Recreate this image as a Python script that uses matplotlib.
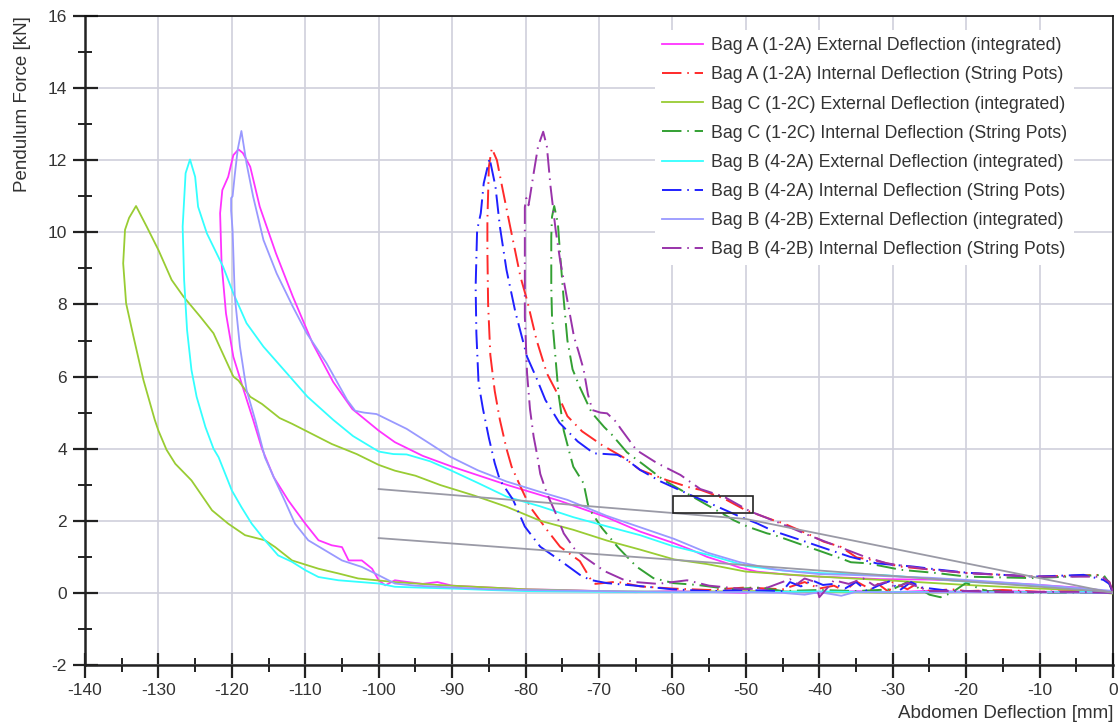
import matplotlib
matplotlib.use("Agg")
import matplotlib.pyplot as plt
from matplotlib.patches import Rectangle
from matplotlib.ticker import MultipleLocator

plt.rcParams['font.family'] = ['Liberation Sans', 'DejaVu Sans']
plt.rcParams['axes.unicode_minus'] = False

# Bag A (1-2A) external deflection (integrated)
bagA_ext_x = [0, -2, -5, -10, -15, -20, -25, -31.7, -36, -40, -44, -48.5, -50.8, -53, -55.3, -57.5,
              -59.8, -64.4, -69, -75.3, -82.6, -90, -94, -97.8, -100, -103.6, -106.2, -109, -111.7,
              -114, -116.2, -117.5, -118.5, -119.1,
              -119.8, -120.5, -121.3, -121.6, -121.4, -120.8, -119.8, -118.4, -117.1, -115.9, -114.3,
              -112.3, -110, -108.2, -106.4, -105, -104.1, -102.3, -100.9, -100, -99.1, -97.8, -96,
              -94, -92, -90, -85, -80, -75, -70, -65, -60, -50, -47, -45, -40, -35, -30, -25, -20,
              -15, -10, -5, 0]
bagA_ext_y = [0, 0.08, 0.15, 0.22, 0.28, 0.33, 0.37, 0.38, 0.42, 0.45, 0.5, 0.59, 0.7, 0.85, 1.0, 1.2,
              1.38, 1.7, 2.1, 2.55, 3.0, 3.5, 3.8, 4.18, 4.5, 5.1, 5.85, 6.92, 8.22,
              9.42, 10.71, 11.82, 12.2, 12.3,
              12.14, 11.54, 11.17, 10.53, 9.14, 7.75, 6.55, 5.63, 4.8, 4.0, 3.21,
              2.56, 1.92, 1.46, 1.32, 1.27, 0.9, 0.9, 0.67, 0.35, 0.21, 0.35, 0.3,
              0.25, 0.3, 0.2, 0.15, 0.1, 0.08, 0.05, 0.02, 0.05, 0.0, 0.1, 0.04, 0.0, 0.05, 0.02, 0.06,
              0.03, 0.05, 0.03, 0.04, 0.02]

# Bag A (1-2A) internal deflection (string pots)
bagA_int_x = [0, -0.5, -1.7, -5, -10.8, -15, -19.9, -25, -29, -32.6, -34.9, -37.1, -39.4, -41.7, -44.9,
              -46.3, -50.1, -53, -56.2, -57.6, -60.8, -64.4, -66.6, -69.6, -72.3, -74.3, -75.7, -77.1,
              -78.5, -79.8, -80.7, -82.1, -83.2, -83.9, -84.6,
              -85, -85.2, -85.2, -85.1, -84.8, -84.2, -83.5, -82.6, -81.9, -80.7, -79.4, -77.1, -75.3,
              -72.6, -71.2, -70.5, -67.6, -64.4, -60, -55, -50, -45, -42, -40, -38, -36.5, -35, -33,
              -32, -30.5, -30, -28, -27, -25, -22, -20, -15, -10, -5, 0]
bagA_int_y = [0, 0.3, 0.5, 0.48, 0.45, 0.5, 0.55, 0.65, 0.73, 0.91, 0.98, 1.28, 1.42, 1.65, 1.93,
              2.02, 2.3, 2.62, 2.86, 2.92, 3.13, 3.41, 3.75, 4.1, 4.48, 4.9, 5.54, 6.09,
              7.01, 8.12, 8.77, 10.16, 11.27, 12.0, 12.33,
              11.82, 10.34, 9.5, 8.0, 6.6, 5.6, 4.8, 4.0, 3.5, 2.95, 2.39, 1.75, 1.28,
              0.88, 0.4, 0.25, 0.31, 0.18, 0.12, 0.08, 0.15, 0.1, 0.3, 0.12, 0.2, 0.05, 0.32, 0.1,
              0.25, 0.02, 0.3, 0.1, 0.22, 0.05, 0.1, 0.05, 0.08, 0.03, 0.05, 0.02]

# Bag C (1-2C) external deflection (integrated)
bagC_ext_x = [0, -5, -10, -15, -20, -25, -31.7, -39.9, -45, -50, -55.3, -59.8, -64.4, -68.9, -73.5,
              -78, -82.6, -87, -91.6, -95, -97.8, -100, -103, -106.4, -109, -111.8, -113.5, -115.9,
              -117.5, -119.1, -119.8, -122.5, -124.3, -126.6, -128.2, -130, -131.6, -133.05,
              -134, -134.55, -134.8, -134.4, -133.4, -132.05, -130.5, -130, -128.9, -127.7, -125.5,
              -122.7, -120.5, -118.2, -115.5, -114.1, -111.8, -108.2, -105.5, -102.8, -97.8, -92,
              -85, -80, -70, -60, -50, -40, -30, -20, -10, 0]
bagC_ext_y = [-0.02, 0.08, 0.12, 0.17, 0.22, 0.28, 0.36, 0.45, 0.52, 0.59, 0.8, 0.93, 1.2, 1.45, 1.75,
              2.0, 2.39, 2.7, 2.99, 3.25, 3.39, 3.55, 3.85, 4.13, 4.4, 4.69, 4.85, 5.24,
              5.44, 5.89, 6.0, 7.2, 7.66, 8.22, 8.68, 9.51, 10.16, 10.73,
              10.4, 10.07, 9.14, 8.03, 7.11, 5.91, 4.8, 4.5, 3.97, 3.58, 3.12,
              2.29, 1.92, 1.6, 1.46, 1.27, 0.9, 0.67, 0.54, 0.4, 0.3, 0.22,
              0.15, 0.1, 0.05, 0.03, 0.05, 0.03, 0.0, 0.02, 0.02, 0.0]

# Bag C (1-2C) internal deflection (string pots)
bagC_int_x = [0, -0.6, -1.3, -6.3, -10.8, -19.9, -24, -28.9, -33.4, -35.7, -37.1, -40.3, -41.6, -46.2,
              -47.1, -49.8, -51.7, -52.5, -55.3, -58.9, -61.2, -63.9, -66.2, -68.3, -69.3, -71, -72.6,
              -73.6, -74.3, -74.8, -75.3, -75.6, -76.1,
              -76.4, -76.5, -76.5, -76.4, -76, -75.5, -74.8, -73.9, -73.5, -72.1, -71.4, -69.6, -67.4,
              -64.9, -62.6, -59.8, -56.6, -52, -48, -45, -40, -35, -30, -28, -27, -25, -23.5, -22, -20,
              -18, -17, -10, 0]
bagC_int_y = [0, 0.3, 0.5, 0.45, 0.41, 0.45, 0.55, 0.64, 0.82, 0.85, 0.96, 1.19, 1.28, 1.61,
              1.65, 1.84, 2.02, 2.12, 2.44, 2.86, 3.13, 3.55, 3.9, 4.4, 4.6, 5.0, 5.7,
              6.2, 7.0, 8.12, 9.4, 10.25, 10.73,
              10.43, 9.88, 8.49, 7.66, 6.7, 5.5, 4.5, 3.8, 3.5, 3.04, 2.35, 1.8, 1.26,
              0.73, 0.41, 0.27, 0.22, 0.1, 0.15, 0.05, 0.08, 0.05, 0.1, 0.3, 0.2, -0.05, -0.12, 0.0,
              0.28, 0.1, 0.05, 0.0, 0.0]

# Bag B (4-2A) external deflection (integrated)
bagB2A_ext_x = [0, -0.5, -5, -10, -15, -20, -25, -31.7, -36, -39.9, -45, -50, -55, -60, -64.4, -69,
                -73.5, -78, -82.6, -86.5, -90.3, -93, -96.2, -98, -100, -103.5, -106.2, -109.7, -112.5,
                -115.7, -118, -119.8, -121.2, -123.4, -124.6, -125, -125.7,
                -126.3, -126.7, -126.5, -126.1, -125.5, -124.8, -123.6, -122.5, -121.8, -120, -118.7,
                -117.3, -115.5, -113.7, -111.8, -110, -108.2, -105.5, -100, -97.8, -95, -90, -85, -80,
                -70, -60, -50, -40, -30, -20, -10, 0]
bagB2A_ext_y = [0, 0.04, 0.12, 0.2, 0.26, 0.31, 0.4, 0.5, 0.52, 0.55, 0.62, 0.75, 1.05, 1.3, 1.6, 1.85,
                2.1, 2.4, 2.67, 3.05, 3.41, 3.65, 3.84, 3.85, 3.92, 4.35, 4.8, 5.44, 6.09,
                6.83, 7.48, 8.31, 9.05, 9.97, 10.71, 11.54, 12.02,
                11.64, 10.16, 8.68, 7.29, 6.18, 5.44, 4.6, 4.0, 3.76, 2.84, 2.38,
                1.92, 1.46, 1.04, 0.86, 0.63, 0.44, 0.35, 0.26, 0.17, 0.15, 0.12, 0.08, 0.05,
                0.03, 0.02, 0.02, 0.04, 0.02, 0.03, 0.02, 0.03]

# Bag B (4-2A) internal deflection (string pots)
bagB2A_int_x = [0, -0.5, -1.3, -4, -10.8, -15, -19.9, -24, -27.2, -32.2, -35.8, -39, -42.6, -46.3,
                -48.5, -51.2, -54.4, -57.6, -61.6, -64.4, -66.2, -67.5, -69, -70.7, -72.9, -75.4,
                -77.3, -78.6, -79.8, -81.4, -82.6, -83.5, -84.1, -84.9,
                -85.7, -86.1, -86.6, -86.8, -86.7, -86.4, -85.8, -85, -84.2, -83.5, -81.7, -80.1, -78,
                -75.3, -72.6, -71.2, -68.9, -65, -60, -55, -50, -45, -44, -42.5, -41, -39.5, -38, -36.5,
                -35, -33.5, -32, -30.5, -29, -27.5, -26, -22, -15, -5, 0]
bagB2A_int_y = [0, 0.25, 0.36, 0.5, 0.45, 0.5, 0.56, 0.65, 0.73, 0.82, 1.0, 1.22, 1.47, 1.72,
                1.93, 2.15, 2.44, 2.72, 3.09, 3.41, 3.69, 3.83, 3.85, 3.87, 4.2, 4.72,
                5.35, 6.0, 6.55, 7.8, 8.96, 10.16, 11.27, 12.05,
                11.36, 10.53, 10.06, 8.49, 7.2, 5.81, 5.1, 4.3, 3.6, 3.13, 2.58, 1.84, 1.28,
                0.9, 0.5, 0.36, 0.27, 0.2, 0.1, 0.05, 0.08, 0.05, 0.3, 0.18, 0.35, 0.22, 0.25, 0.12,
                0.3, 0.05, 0.2, 0.32, 0.08, 0.3, 0.15, 0.05, 0.03, 0.02, 0.0]

# Bag B (4-2B) external deflection (integrated)
bagB2B_ext_x = [0, -0.3, -5, -10, -15, -20, -25, -31.7, -36, -39.9, -43, -46.3, -50.8, -55.3, -59.8,
                -64.4, -69, -74.3, -78, -82.6, -86.5, -90.3, -93.5, -96.2, -98.5, -100.3, -102, -103.2,
                -104.3, -107.1, -109.8, -111.7, -113.9, -115.7, -117.1, -118, -118.7,
                -119.2, -119.6, -119.9, -120.1, -120.1, -119.9, -119.6, -118.9, -118, -116.8, -115.5,
                -114.1, -112.8, -111.4, -109.6, -107.3, -105, -102.3, -100.5, -97.8, -95, -90, -85,
                -80, -70, -60, -50, -45, -42, -40, -37, -35, -30, -20, -10, 0]
bagB2B_ext_y = [0, 0.06, 0.14, 0.22, 0.29, 0.36, 0.42, 0.47, 0.5, 0.52, 0.58, 0.66, 0.85, 1.12, 1.5,
                1.82, 2.14, 2.58, 2.8, 3.09, 3.4, 3.78, 4.2, 4.55, 4.78, 4.96, 5.0, 5.05,
                5.35, 6.37, 7.2, 7.94, 8.86, 9.79, 10.99, 11.91, 12.81,
                12.3, 11.6, 11.0, 10.95, 10.6, 10.06, 8.22, 6.83, 5.63, 4.78, 3.76,
                3.12, 2.56, 1.92, 1.46, 1.18, 0.9, 0.72, 0.54, 0.26, 0.2, 0.15, 0.1,
                0.08, 0.05, 0.03, 0.02, 0.0, -0.05, 0.02, -0.08, 0.03, 0.01, 0.02, 0.01, 0.0]

# Bag B (4-2B) internal deflection (string pots)
bagB2B_int_x = [0, -0.5, -1.5, -10.8, -19.9, -25, -30.8, -33.9, -37.1, -41.6, -45.3, -49.4, -53, -56.2,
                -58.9, -62.1, -64.9, -67.1, -67.7, -68.9, -69.8, -70.9, -71.5, -72.1, -72.8, -73.4,
                -74.3, -75.3, -75.9, -76.6, -77.1, -77.6,
                -78.3, -78.9, -79.4, -79.6, -79.9, -80.1, -80.1, -80.1, -80.1, -79.8, -79.4, -78.9,
                -78.4, -78, -77.1, -75.9, -74.8, -73.4, -72.1, -70.5, -69.2, -66.6, -65, -62, -58,
                -55, -50, -47, -44, -43, -42, -40.5, -40, -38, -36, -34, -32.5, -31, -29.5, -28, -25,
                -20, -15, -5, 0]
bagB2B_int_y = [0, 0.3, 0.45, 0.45, 0.55, 0.65, 0.82, 1.01, 1.26, 1.61, 1.93, 2.26, 2.67, 2.88,
                3.27, 3.6, 3.96, 4.57, 4.75, 4.98, 5.0, 5.07, 5.5, 6.2, 6.7, 7.1,
                8.1, 9.23, 10.06, 11.27, 12.38, 12.79,
                12.38, 11.64, 10.99, 10.75, 10.95, 10.7, 10.34, 8.96, 7.66, 6.1, 5.1, 4.33,
                3.8, 3.3, 2.76, 2.21, 1.65, 1.24, 1.01, 0.78, 0.6, 0.36, 0.3, 0.25, 0.35,
                0.2, 0.1, 0.15, 0.38, 0.25, 0.4, 0.3, -0.12, 0.35, 0.25, 0.4, 0.2, 0.3, 0.15, 0.28, 0.05,
                0.05, 0.02, 0.03, 0.0]

# grey reference lines and marked box
ref_upper_x = [-100, -50, 0]
ref_upper_y = [2.88, 2.05, 0.0]
ref_lower_x = [-100, 0]
ref_lower_y = [1.52, 0.02]
box_x = [-59.9, -49.0]
box_y = [2.21, 2.69]

dashdot = (0, (10, 3, 0.8, 3))
series = [
    (bagA_ext_x, bagA_ext_y, '#ff33ff', '-', 'Bag A (1-2A) External Deflection (integrated)'),
    (bagA_int_x, bagA_int_y, '#ff2a2a', dashdot, 'Bag A (1-2A) Internal Deflection (String Pots)'),
    (bagC_ext_x, bagC_ext_y, '#99cc33', '-', 'Bag C (1-2C) External Deflection (integrated)'),
    (bagC_int_x, bagC_int_y, '#33a033', dashdot, 'Bag C (1-2C) Internal Deflection (String Pots)'),
    (bagB2A_ext_x, bagB2A_ext_y, '#33ffff', '-', 'Bag B (4-2A) External Deflection (integrated)'),
    (bagB2A_int_x, bagB2A_int_y, '#2020ff', dashdot, 'Bag B (4-2A) Internal Deflection (String Pots)'),
    (bagB2B_ext_x, bagB2B_ext_y, '#9999ff', '-', 'Bag B (4-2B) External Deflection (integrated)'),
    (bagB2B_int_x, bagB2B_int_y, '#9933aa', dashdot, 'Bag B (4-2B) Internal Deflection (String Pots)'),
]

fig = plt.figure(figsize=(11.19, 7.24), dpi=100)
ax = fig.add_axes([85 / 1119, 1 - 665 / 724, 1028 / 1119, 649 / 724])

for x, y, c, ls, lab in series:
    lw = 1.3 if ls == '-' else 1.4
    ax.plot(x, y, color=c, linestyle=ls, lw=lw, label=lab, zorder=3)

ax.plot(ref_upper_x, ref_upper_y, color='#9a9aa6', lw=1.3, zorder=4)
ax.plot(ref_lower_x, ref_lower_y, color='#9a9aa6', lw=1.3, zorder=4)
ax.add_patch(Rectangle((box_x[0], box_y[0]), box_x[1] - box_x[0], box_y[1] - box_y[0],
                       fill=False, ec='#222222', lw=1.2, zorder=5))

ax.set_xlim(-140, 0)
ax.set_ylim(-2, 16)
ax.xaxis.set_major_locator(MultipleLocator(10))
ax.xaxis.set_minor_locator(MultipleLocator(5))
ax.yaxis.set_major_locator(MultipleLocator(2))
ax.yaxis.set_minor_locator(MultipleLocator(1))
ax.grid(which='major', color='#d0d0dc', lw=1.2, zorder=0)
ax.set_axisbelow(True)

ax.tick_params(which='major', direction='inout', length=18, width=1.6, labelsize=12.5,
               colors='#222222', labelcolor='#333333')
ax.tick_params(axis='y', which='major', pad=4)
ax.tick_params(axis='x', which='major', pad=4)
ax.tick_params(which='minor', direction='inout', length=10, width=1.4, colors='#222222')
for side in ['left', 'bottom']:
    ax.spines[side].set_linewidth(1.8)
    ax.spines[side].set_color('#222222')
for side in ['top', 'right']:
    ax.spines[side].set_linewidth(1.2)
    ax.spines[side].set_color('#111111')

ax.set_xlabel('Abdomen Deflection [mm]', loc='right', fontsize=13.5, color='#333333', labelpad=5)
ax.set_ylabel('Pendulum Force [kN]', loc='top', fontsize=13.5, color='#333333', labelpad=12)

leg = ax.legend(loc='upper left', bbox_to_anchor=(0.5545, 0.978), borderaxespad=0,
                fontsize=12.8, frameon=True, fancybox=False, edgecolor='none', facecolor='white',
                framealpha=1, handlelength=2.3, handletextpad=0.45, labelspacing=0.68)
leg.set_zorder(6)
for t in leg.get_texts():
    t.set_color('#333333')

fig.savefig('out.png', dpi=100)
